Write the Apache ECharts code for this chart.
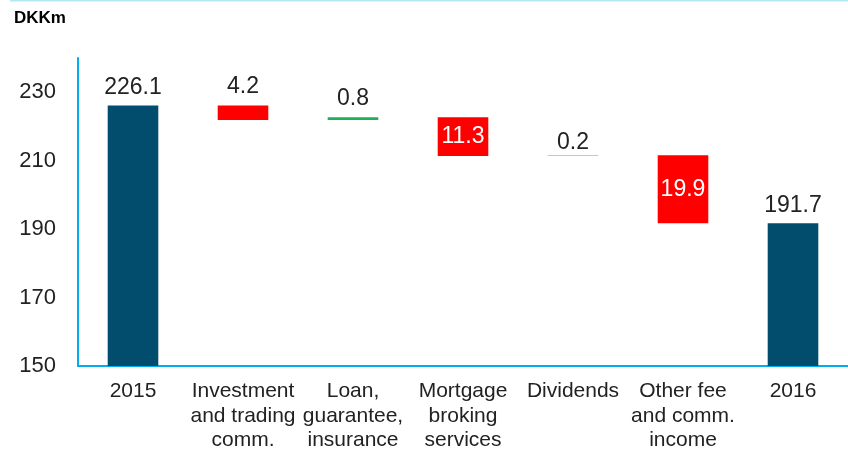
<!DOCTYPE html>
<html>
<head>
<meta charset="utf-8">
<script src="https://cdn.jsdelivr.net/npm/echarts@6/dist/echarts.min.js"></script>
<style>
  html, body { margin: 0; padding: 0; background: #fff; }
  #waterfall { width: 848px; height: 450px; }
</style>
</head>
<body>
<div id="waterfall"></div>
<script>
// categories along the x axis
var categories = [
  '2015',
  'Investment\nand trading\ncomm.',
  'Loan,\nguarantee,\ninsurance',
  'Mortgage\nbroking\nservices',
  'Dividends',
  'Other fee\nand comm.\nincome',
  '2016'
];
// opening / closing totals (DKKm)
var startValue = 226.1;
var endValue = 191.7;
// changes between the two years
var changes = [-4.2, 0.8, -11.3, 0.2, -19.9];
// colours for the change bars
var changeColors = ['#ff0000', '#1db05a', '#ff0000', '#8ccba9', '#ff0000'];

var chartDom = document.getElementById('waterfall');
var myChart = echarts.init(chartDom);

// build base (transparent) + visible stacked parts
var baseData = [0];
var visibleData = [];
visibleData.push({
  value: startValue,
  itemStyle: { color: '#024d6d' },
  label: { show: true, position: 'top', distance: 6, color: '#222', formatter: startValue.toFixed(1) }
});
var level = startValue;
changes.forEach(function (c, i) {
  var next = level + c;
  var low = Math.min(level, next);
  baseData.push(low);
  var inside = Math.abs(c) > 5;
  visibleData.push({
    value: Math.abs(c),
    itemStyle: { color: changeColors[i] },
    label: {
      show: true,
      position: inside ? 'inside' : 'top',
      distance: c === 0.2 ? 1 : 7,
      color: inside ? '#fff' : '#222',
      formatter: Math.abs(c).toFixed(1)
    }
  });
  level = next;
});
baseData.push(0);
visibleData.push({
  value: endValue,
  itemStyle: { color: '#024d6d' },
  label: { show: true, position: 'top', distance: 6, color: '#222', formatter: endValue.toFixed(1) }
});

var option = {
  animation: false,
  textStyle: { fontFamily: 'Liberation Sans, Arial, sans-serif' },
  title: {
    text: 'DKKm',
    left: 9,
    top: 5,
    textStyle: { fontSize: 17, fontWeight: 'bold', color: '#000', fontFamily: 'Liberation Sans, Arial, sans-serif' }
  },
  graphic: [
    {
      type: 'line',
      shape: { x1: 10, y1: 0.5, x2: 848, y2: 0.5 },
      style: { stroke: '#b3e5f7', lineWidth: 2 }
    }
  ],
  grid: {
    left: 78,
    right: 0,
    top: 58,
    bottom: 84,
    outerBoundsMode: 'none'
  },
  xAxis: {
    type: 'category',
    data: categories,
    axisLine: { lineStyle: { color: '#00aeef', width: 2 } },
    axisTick: { show: false },
    axisLabel: {
      interval: 0,
      margin: 13,
      fontSize: 21,
      lineHeight: 24.5,
      color: '#222',
      align: 'center'
    }
  },
  yAxis: {
    type: 'value',
    min: 150,
    max: 240,
    interval: 10,
    axisLine: { show: true, lineStyle: { color: '#00aeef', width: 2 } },
    axisTick: { show: false },
    splitLine: { show: false },
    axisLabel: {
      margin: 22,
      fontSize: 22,
      color: '#222',
      formatter: function (v) {
        return (v - 150) % 20 === 0 && v <= 230 ? String(v) : '';
      }
    }
  },
  series: [
    {
      type: 'bar',
      stack: 'wf',
      barWidth: '46%',
      itemStyle: { color: 'transparent' },
      silent: true,
      data: baseData
    },
    {
      type: 'bar',
      stack: 'wf',
      barWidth: '46%',
      label: { fontSize: 23 },
      data: visibleData
    }
  ]
};
option && myChart.setOption(option);
</script>
</body>
</html>
